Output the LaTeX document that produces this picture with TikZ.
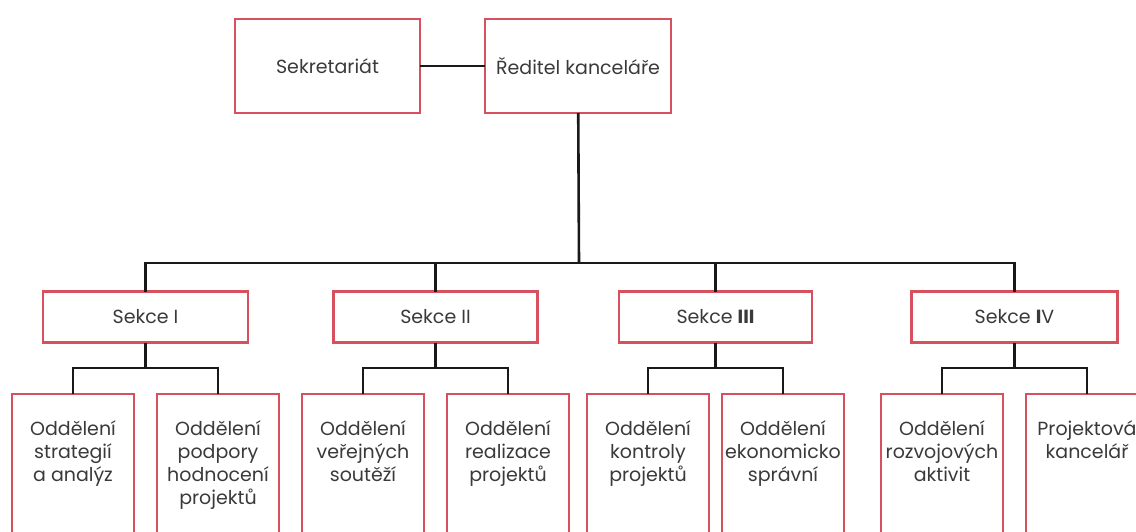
\documentclass[tikz,border=0pt]{standalone}
\usepackage{fontspec}
\setmainfont{Poppins}
\usepackage{xcolor}
\usetikzlibrary{calc}

\definecolor{ramec}{RGB}{214,80,94}
\definecolor{pismo}{RGB}{58,58,58}

\tikzset{
	box/.style = {draw=ramec, line width=2.6pt, fill=white, text=pismo, inner sep=0pt, outer sep=0pt, font=\fontsize{19}{23}\selectfont},
	oddeleni/.style = {box, anchor=north, inner xsep=1pt, inner ysep=27pt},
	spoj/.style = {line width=2.6pt, black!90},
}
\newcommand{\oddtext}[1]{\parbox[t][150pt][t]{120pt}{\centering #1}}

\begin{document}
\begin{tikzpicture}[x=1pt, y=-1pt]
		\useasboundingbox (0,0) rectangle (1136,532);
		\clip (0,0) rectangle (1136,532);
		
		\node [box, minimum width=185pt, minimum height=94pt] (sekretariat) at (327.5,66) {Sekretariát};
		\node [box, minimum width=186pt, minimum height=94pt] (reditel) at (578,66) {Ředitel kanceláře};
		
		\coordinate (bus) at (579,263);
		
		%sekce
		\node [box, minimum width=205pt, minimum height=51pt] (sekce1) at (145.5,317) {Sekce I};
		\node [box, minimum width=204pt, minimum height=51pt] (sekce2) at (435.5,317) {Sekce II};
		\node [box, minimum width=193pt, minimum height=51pt] (sekce3) at (715.5,317) {Sekce \textbf{III}};
		\node [box, minimum width=206pt, minimum height=51pt] (sekce4) at (1014.5,317) {Sekce \textbf{I}V};
		
		%oddeleni
		\node [oddeleni] (oddL1) at (73,394) {\oddtext{Oddělení\\strategií\\a analýz}};
		\node [oddeleni] (oddR1) at (218,394) {\oddtext{Oddělení\\podpory\\hodnocení\\projektů}};
		\node [oddeleni] (oddL2) at (363,394) {\oddtext{Oddělení\\veřejných\\soutěží}};
		\node [oddeleni] (oddR2) at (508,394) {\oddtext{Oddělení\\realizace\\projektů}};
		\node [oddeleni] (oddL3) at (648,394) {\oddtext{Oddělení\\kontroly\\projektů}};
		\node [oddeleni] (oddR3) at (783,394) {\oddtext{Oddělení\\ekonomicko\\správní}};
		\node [oddeleni] (oddL4) at (942,394) {\oddtext{Oddělení\\rozvojových\\aktivit}};
		\node [oddeleni] (oddR4) at (1087,394) {\oddtext{Projektová\\kancelář}};
		
		%spoje
		\draw [spoj] (sekretariat) -- (reditel);
		\draw [spoj] (reditel) -- (bus);
		\draw [spoj] (sekce1) |- (bus) -| (sekce4);
		\draw [spoj] (sekce2) -- (sekce2 |- bus);
		\draw [spoj] (sekce3) -- (sekce3 |- bus);
		
		\foreach \s in {1,...,4} {
			\path (sekce\s.south) ++(0,25.5) coordinate (rozv\s);
			\draw [spoj] (sekce\s) -- (rozv\s);
			\draw [spoj] (oddL\s) |- (rozv\s) -| (oddR\s);
		}
	\end{tikzpicture}
\end{document}
